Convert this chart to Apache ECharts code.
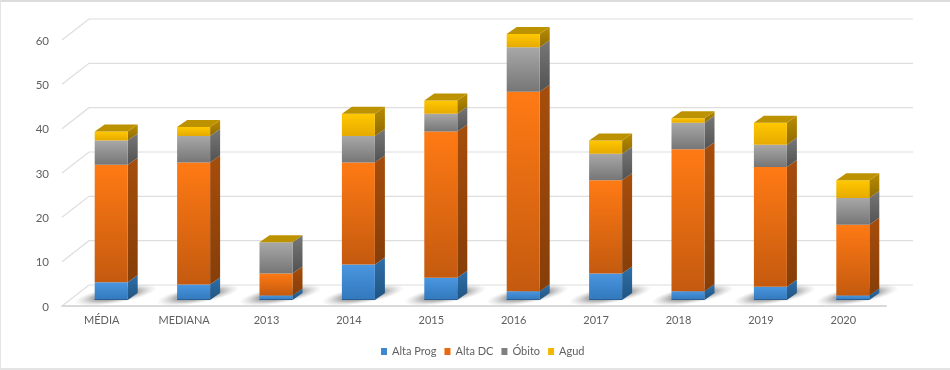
<!DOCTYPE html>
<html>
<head>
<meta charset="utf-8">
<style>
html,body{margin:0;padding:0;background:#fff;}
#chart{width:950px;height:370px;}
#frame{position:absolute;left:0;top:0;width:950px;height:370px;box-sizing:border-box;border-top:2px solid #dcdcdc;border-left:1px solid #e4e4e4;border-bottom:2px solid #e4e4e4;pointer-events:none;}
</style>
<script src="https://cdn.jsdelivr.net/npm/echarts@6/dist/echarts.min.js"></script>
</head>
<body>
<div id="chart"></div>
<div id="frame"></div>
<script>
const categories = ['MÉDIA','MEDIANA','2013','2014','2015','2016','2017','2018','2019','2020'];
const altaProg = [4, 3.5, 1, 8, 5, 2, 6, 2, 3, 1];
const altaDC   = [26.5, 27.5, 5, 23, 33, 45, 21, 32, 27, 16];
const obito    = [5.5, 6, 7, 6, 4, 10, 6, 6, 5, 6];
const agud     = [2, 2, 0, 5, 3, 3, 3, 1, 5, 4];
const yTicks   = [0, 10, 20, 30, 40, 50, 60];

const FONT = 'Lato';
const TEXT = '#606060';
const G = (a, b) => new echarts.graphic.LinearGradient(0, 0, 0, 1, [{offset:0,color:a},{offset:1,color:b}]);
const styles = [
  {name:'Alta Prog', legend:'#3f87cf', front:['#4a96e0','#3278bc'], side:['#2f6fa8','#1f5482'], data:altaProg},
  {name:'Alta DC',   legend:'#e8690f', front:['#ff7a14','#c45a0f'], side:['#a64d0c','#863e08'], data:altaDC},
  {name:'Óbito',     legend:'#7f7f7f', front:['#a8a8a8','#767676'], side:['#777777','#525252'], data:obito},
  {name:'Agud',      legend:'#f2b800', front:['#ffc800','#e6aa00'], side:['#b98c00','#8f6c00'], data:agud}
];
const BAR_W = 33, DX = 10, DY = 7, SHIFT_X = 8, SHIFT_Y = 6, WALL_X = 27, WALL_Y = 21;

function stackRows(values, lower){
  return values.map((v,i)=>[i, lower[i], lower[i]+v]);
}
let running = categories.map(()=>0);
const barSeries = styles.map((s, idx)=>{
  const rows = stackRows(s.data, running);
  running = rows.map(r=>r[2]);
  return {
    name:s.name, type:'custom', z:5+idx, silent:true,
    itemStyle:{color:s.legend},
    encode:{x:0,y:[1,2]},
    data:rows,
    renderItem(params, api){
      const base = api.coord([api.value(0), api.value(1)]);
      const top  = api.coord([api.value(0), api.value(2)]);
      const x0 = base[0] + SHIFT_X - BAR_W/2, x1 = x0 + BAR_W;
      const yb = base[1] - SHIFT_Y, yt = top[1] - SHIFT_Y;
      const kids = [
        {type:'polygon', shape:{points:[[x1,yt],[x1+DX,yt-DY],[x1+DX,yb-DY],[x1,yb]]}, style:{fill:G(s.side[0],s.side[1])}},
        {type:'rect', shape:{x:x0,y:yt,width:BAR_W,height:yb-yt}, style:{fill:G(s.front[0],s.front[1])}}
      ];
      if (idx === 0) {
        kids.push({type:'rect', shape:{x:x0,y:yb-1,width:BAR_W,height:1}, style:{fill:'#2a5f96'}});
      }
      if (idx === styles.length-1) {
        kids.push({type:'polygon', shape:{points:[[x0,yt],[x0+DX,yt-DY],[x1+DX,yt-DY],[x1,yt]]}, style:{fill:'#bd9200'}});
      }
      return {type:'group', children:kids};
    }
  };
});

const wallSeries = {
  type:'custom', z:1, silent:true, encode:{y:1},
  data:yTicks.map(t=>[0,t]),
  renderItem(params, api){
    const cs = params.coordSys;
    const y = api.coord([0, api.value(1)])[1];
    return {type:'polyline', shape:{points:[[cs.x,y],[cs.x+WALL_X,y-WALL_Y],[cs.x+cs.width+WALL_X,y-WALL_Y]]},
      style:{fill:'none',stroke:'#dedede',lineWidth:1.2}};
  }
};
const shadowSeries = {
  type:'custom', z:2, silent:true,
  data:categories.map((c,i)=>[i,0]),
  renderItem(params, api){
    const p = api.coord([api.value(0), 0]);
    const x0 = p[0] + SHIFT_X - BAR_W/2, y0 = p[1] - SHIFT_Y;
    return {type:'circle', x:x0+21, y:y0-5, rotation:0.17, scaleY:0.2,
      shape:{cx:0,cy:0,r:42},
      style:{fill:new echarts.graphic.RadialGradient(0.5,0.5,0.5,[
        {offset:0,color:'rgba(90,90,90,0.7)'},
        {offset:0.55,color:'rgba(110,110,110,0.55)'},
        {offset:1,color:'rgba(180,180,180,0)'}
      ])}};
  }
};

const chart = echarts.init(document.getElementById('chart'), null, {renderer:'canvas'});
chart.setOption({
  animation:false,
  backgroundColor:'#fff',
  textStyle:{fontFamily:FONT},
  grid:{left:62,right:64,top:40,bottom:64},
  legend:{
    data:styles.map(s=>({name:s.name,icon:'rect'})),
    left:381, top:346, padding:0, itemWidth:6, itemHeight:7, itemGap:8,
    selectedMode:false,
    textStyle:{fontFamily:FONT,fontSize:11,color:TEXT}
  },
  xAxis:{
    type:'category', data:categories,
    axisLine:{lineStyle:{color:'#d9d9d9',width:2}},
    axisTick:{show:false},
    axisLabel:{fontFamily:FONT,fontSize:11,color:TEXT,margin:9,padding:[0,3,0,0]},
    splitLine:{show:false}
  },
  yAxis:{
    type:'value', min:0, max:60, interval:10,
    axisLine:{show:false}, axisTick:{show:false},
    axisLabel:{fontFamily:FONT,fontSize:11.5,color:TEXT,margin:13,verticalAlign:'top',padding:[-5,0,0,0]},
    splitLine:{show:false}
  },
  series:[wallSeries, shadowSeries].concat(barSeries)
});
</script>
</body>
</html>
